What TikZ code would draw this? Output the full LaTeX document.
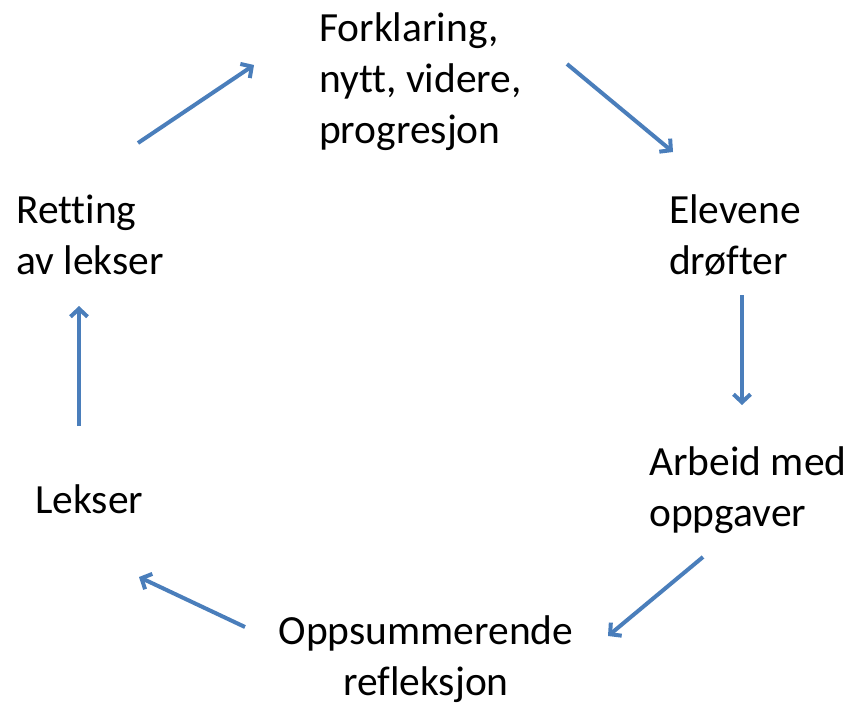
\documentclass[tikz,border=0pt]{standalone}
\usepackage{fontspec}
\setmainfont[Ligatures=NoCommon]{Carlito}
\usetikzlibrary{arrows.meta}
\definecolor{arrowblue}{HTML}{4A7EBB}
\begin{document}
\begin{tikzpicture}[x=1pt,y=-1pt,
  lbl/.style={inner sep=0pt, font=\fontsize{41.5}{51}\selectfont, text=black},
  flow/.style={draw=arrowblue, line width=4pt, line cap=butt,
    -{Straight Barb[length=8pt,width=17pt]}}]
\useasboundingbox (0,0) rectangle (848,706);
% labels (anchor = baseline of last line)
\node[lbl, align=left, anchor=base west] (forkl) at (319,143) {Forklaring,\\nytt, videre,\\progresjon};
\node[lbl, align=left, anchor=base west] (elev) at (669,274) {Elevene\\drøfter};
\node[lbl, align=left, anchor=base west] (arb) at (649,526) {Arbeid med\\oppgaver};
\node[lbl, align=center, anchor=base] (opps) at (426,695) {Oppsummerende\\refleksjon};
\node[lbl, anchor=base west] (lek) at (35,513) {Lekser};
\node[lbl, align=left, anchor=base west] (rett) at (16,274) {Retting\\av lekser};
% arrow end points
\coordinate (a1s) at (138,143); \coordinate (a1e) at (254,65);
\coordinate (a2s) at (567,64);  \coordinate (a2e) at (673,152);
\coordinate (a3s) at (742,295); \coordinate (a3e) at (742,405);
\coordinate (a4s) at (703,557); \coordinate (a4e) at (608,636);
\coordinate (a5s) at (245,627); \coordinate (a5e) at (139,577);
\coordinate (a6s) at (79,426);  \coordinate (a6e) at (79,306);
\draw[flow] (a1s) -- (a1e);
\draw[flow] (a2s) -- (a2e);
\draw[flow] (a3s) -- (a3e);
\draw[flow] (a4s) -- (a4e);
\draw[flow] (a5s) -- (a5e);
\draw[flow] (a6s) -- (a6e);
\end{tikzpicture}
\end{document}
